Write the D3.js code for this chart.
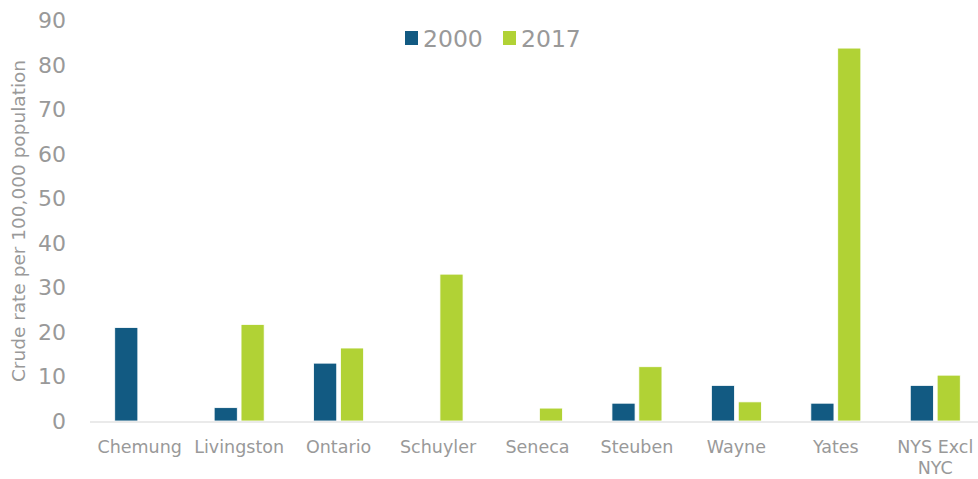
<!DOCTYPE html>
<html>
<head>
<meta charset="utf-8">
<script src="https://cdn.jsdelivr.net/npm/d3@7"></script>
<style>
  body { margin: 0; background: #fff; }
  text { font-family: "DejaVu Sans", Verdana, sans-serif; fill: #999; }
</style>
</head>
<body>
<svg id="chart"></svg>
<script>
const counties = ["Chemung", "Livingston", "Ontario", "Schuyler", "Seneca", "Steuben", "Wayne", "Yates", "NYS Excl NYC"];
const years = ["2000", "2017"];
const rate2000 = [21, 3, 13, null, null, 4, 8, 4, 8];
const rate2017 = [null, 21.7, 16.4, 33, 2.9, 12.2, 4.3, 83.8, 10.3];
const yTicks = [0, 10, 20, 30, 40, 50, 60, 70, 80, 90];
const colors = ["#125a82", "#b1d235"];

const wSvg = 978;
const hSvg = 479;
const margin = { top: 20, right: -7, bottom: 58, left: 90 };

const svg = d3.select("#chart")
  .attr("width", wSvg)
  .attr("height", hSvg);

const x = d3.scaleBand()
  .domain(counties)
  .range([margin.left, wSvg - margin.right]);

const xInner = d3.scaleBand()
  .domain(years)
  .range([x.bandwidth() / 2 - 25, x.bandwidth() / 2 + 25])
  .paddingInner(0.14);

const y = d3.scaleLinear()
  .domain([0, 90])
  .range([hSvg - margin.bottom, margin.top + 0.5]);

// y tick labels, no axis line
const yAxis = svg.append("g")
  .attr("transform", `translate(${margin.left}, 0)`)
  .call(d3.axisLeft(y).tickValues(yTicks).tickSize(0).tickPadding(24));
yAxis.select(".domain").remove();
yAxis.selectAll("text")
  .style("font-size", "22px")
  .attr("fill", "#999");

// y title
svg.append("text")
  .attr("transform", `translate(25, 221) rotate(-90)`)
  .attr("text-anchor", "middle")
  .style("font-size", "18.5px")
  .text("Crude rate per 100,000 population");

// bars
const series = [rate2000, rate2017];
series.forEach((vals, s) => {
  svg.append("g")
    .selectAll("rect")
    .data(counties.map((c, i) => ({ c: c, v: vals[i] })).filter(d => d.v !== null))
    .enter()
    .append("rect")
    .attr("x", d => x(d.c) + xInner(years[s]))
    .attr("y", d => y(d.v))
    .attr("width", xInner.bandwidth())
    .attr("height", d => y(0) - y(d.v))
    .attr("fill", colors[s])
    .attr("stroke", "#fff")
    .attr("stroke-width", 0.8);
});

// x axis line
svg.append("line")
  .attr("x1", margin.left)
  .attr("x2", wSvg)
  .attr("y1", y(0) + 1)
  .attr("y2", y(0) + 1)
  .attr("stroke", "#e3e3e3")
  .attr("stroke-width", 1.5);

// x labels
const xLab = svg.append("g")
  .selectAll("text")
  .data(counties)
  .enter()
  .append("text")
  .attr("x", d => x(d) + x.bandwidth() / 2)
  .attr("y", y(0) + 32)
  .attr("text-anchor", "middle")
  .style("font-size", "17.5px");

xLab.each(function(d) {
  const lines = d === "NYS Excl NYC" ? ["NYS Excl", "NYC"] : [d];
  const t = d3.select(this);
  lines.forEach((l, i) => {
    t.append("tspan")
      .attr("x", x(d) + x.bandwidth() / 2)
      .attr("dy", i === 0 ? 0 : 21)
      .text(l);
  });
});

// legend
const legend = svg.append("g").attr("transform", "translate(405, 31)");
years.forEach((yr, i) => {
  const g = legend.append("g").attr("transform", `translate(${i * 98}, 0)`);
  g.append("rect")
    .attr("width", 13)
    .attr("height", 14)
    .attr("fill", colors[i]);
  g.append("text")
    .attr("x", 18)
    .attr("y", 15.5)
    .style("font-size", "23.5px")
    .text(yr);
});
</script>
</body>
</html>
